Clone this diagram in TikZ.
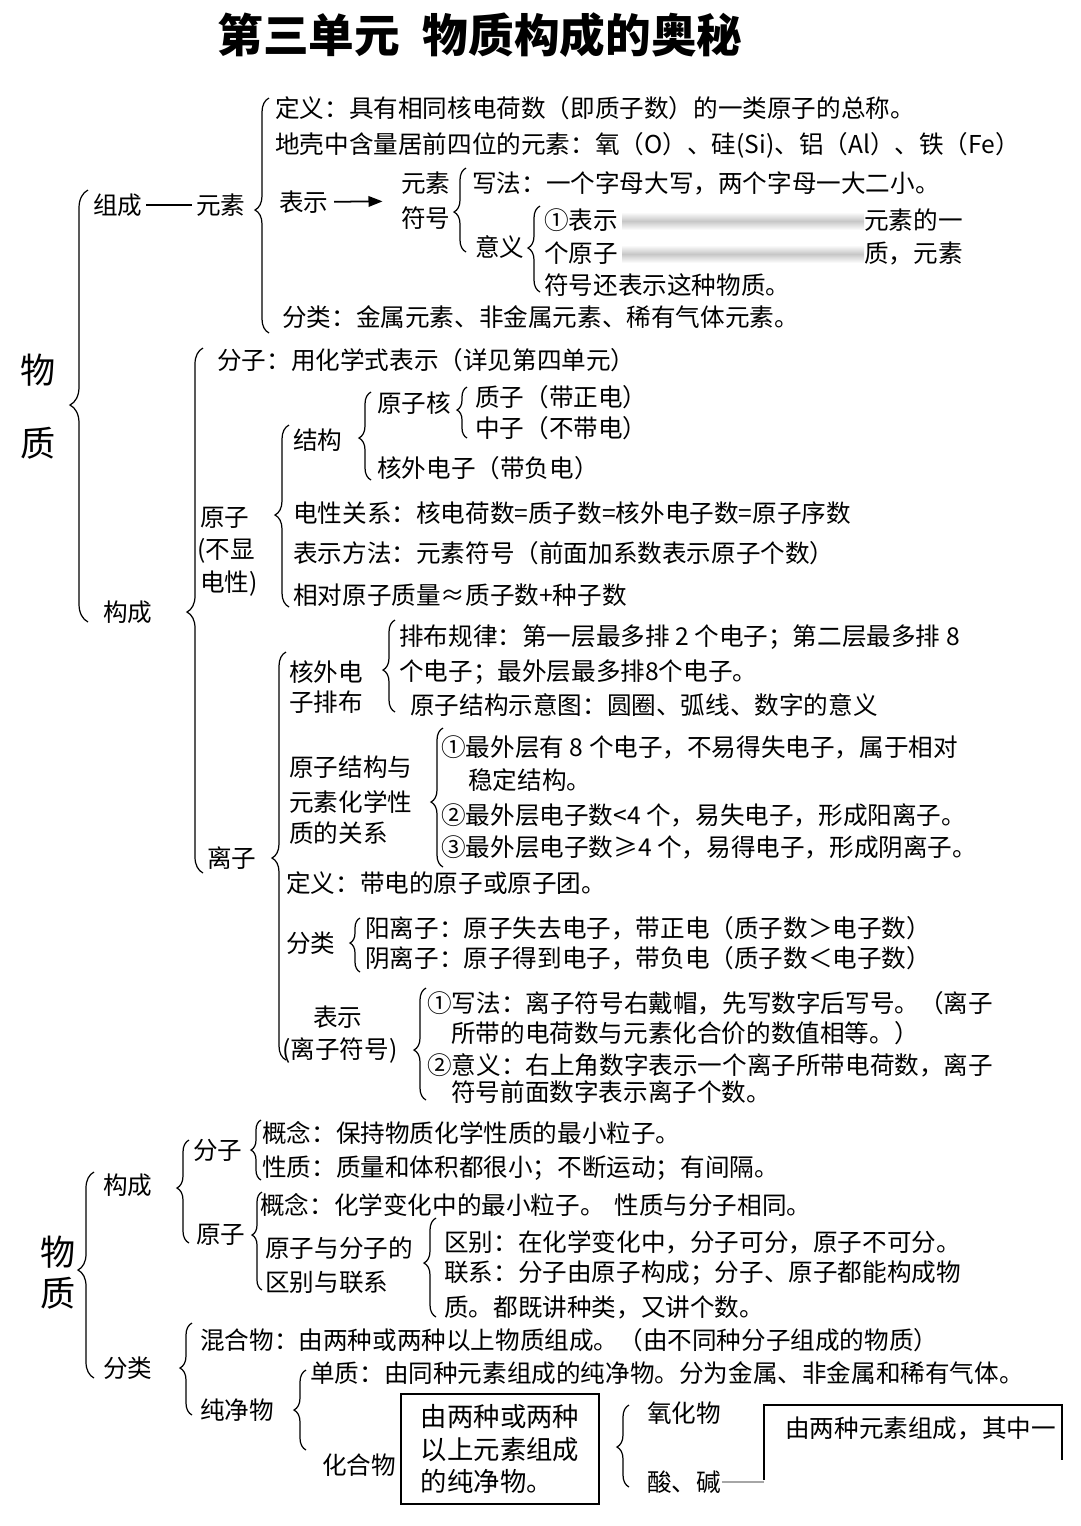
\documentclass[tikz,border=0pt]{standalone}
\usepackage{fontspec}
\setmainfont{Noto Sans CJK SC}
\usetikzlibrary{decorations.pathreplacing,arrows.meta}

\newcommand\bodyfont{\fontsize{14}{17}\selectfont}
\newcommand\bigfont{\fontsize{20}{24}\selectfont}
% brace: line x, top, bottom, tip, amplitude (px)
\newcommand\kuohao[5]{%
  \pgfmathsetmacro\kasp{(#3-#4)/(#3-#2)}%
  \pgfmathsetmacro\kamp{#5*0.569}%
  \draw[kh,decoration={brace,amplitude=\kamp pt,aspect=\kasp}] ({#1+#5/2},#3) -- ({#1+#5/2},#2);}

\begin{document}
\begin{tikzpicture}[x=0.02cm,y=-0.02cm,
  entry/.style={anchor=west,inner sep=0pt,font=\bodyfont},
  big/.style={inner sep=0pt,font=\bigfont},
  kh/.style={decorate,line width=0.7pt}]
\useasboundingbox (0,0) rectangle (1080,1526);

\node[inner sep=0pt,font=\fontsize{26}{30}\selectfont\bfseries] (title) at (480,35) {第三单元\hspace{0.5em}物质构成的奥秘};

% first part: 组成
\node[big] (wu1) at (38,370) {物};
\node[big] (zhi1) at (38,443) {质};
\kuohao{79}{190}{622}{405}{18}
\node[entry] (zucheng) at (93,205) {组成};
\node[entry] (yuansu) at (196,205) {元素};
\draw[line width=1.2pt,shorten <=2pt,shorten >=2pt] (zucheng) -- (yuansu);

\kuohao{262}{98}{333}{210}{14}
\node[entry] (dingyi) at (275,108) {定义：具有相同核电荷数（即质子数）的一类原子的总称。};
\node[entry] (dike) at (275,145) {地壳中含量居前四位的元素：氧（O）、硅(Si)、铝（Al）、铁（Fe）};
\node[entry] (biaoshi) at (279,202) {表示};
\node[entry,align=left,font=\fontsize{14}{20}\selectfont] (fuhao) at (401,201) {元素\\符号};
\draw[-{Triangle[length=8pt,width=6pt]},line width=1pt,shorten <=3pt,shorten >=10.5pt] (biaoshi) -- (fuhao);

\kuohao{460}{168}{252}{212}{12}
\node[entry] (xiefa) at (472,183) {写法：一个字母大写，两个字母一大二小。};
\node[entry] (yiyi) at (475,247) {意义};
\kuohao{534}{206}{292}{248}{12}
\node[entry] (yiyi1a) at (544,220) {①表示};
\node[entry] (yiyi1b) at (864,220) {元素的一};
\node[entry] (yiyi2a) at (544,253) {个原子};
\node[entry] (yiyi2b) at (864,253) {质，元素};
\node[entry] (yiyi3) at (544,285) {符号还表示这种物质。};
\shade[top color=white,bottom color=white,middle color=black!22] (622,212) rectangle (864,230);
\shade[top color=white,bottom color=white,middle color=black!22] (622,245) rectangle (864,263);
\node[entry] (fenlei1) at (282,317) {分类：金属元素、非金属元素、稀有气体元素。};

% first part: 构成
\node[entry] (goucheng1) at (103,612) {构成};
\kuohao{195}{348}{873}{612}{16}
\node[entry] (fenzi1) at (217,360) {分子：用化学式表示（详见第四单元）};

\node[entry] (yuanzi1) at (200,518) {原子};
\node[entry] (buxian) at (197,551) {(不显};
\node[entry] (dianxing) at (200,584) {电性)};
\kuohao{282}{425}{607}{515}{14}
\node[entry] (jiegou) at (293,440) {结构};
\kuohao{365}{392}{480}{438}{12}
\node[entry] (hezi) at (377,403) {原子核};
\kuohao{462}{387}{438}{410}{10}
\node[entry] (zhizi) at (475,397) {质子（带正电）};
\node[entry] (zhongzi) at (475,428) {中子（不带电）};
\node[entry] (dianzi) at (377,468) {核外电子（带负电）};
\node[entry] (guanxi) at (293,513) {电性关系：核电荷数=质子数=核外电子数=原子序数};
\node[entry] (fangfa) at (293,553) {表示方法：元素符号（前面加系数表示原子个数）};
\node[entry] (zhiliang) at (293,595) {相对原子质量≈质子数+种子数};

\node[entry] (lizi) at (207,858) {离子};
\kuohao{279}{652}{1060}{858}{14}
\node[entry] (paibu1) at (289,672) {核外电};
\node[entry] (paibu2) at (289,702) {子排布};
\kuohao{389}{620}{712}{670}{12}
\node[entry] (guilv1) at (399,637) {排布规律：第一层最多排 2 个电子；第二层最多排 8};
\node[entry] (guilv2) at (399,672) {个电子；最外层最多排8个电子。};
\node[entry] (shiyi) at (410,705) {原子结构示意图：圆圈、弧线、数字的意义};
\node[entry] (xingzhi1) at (289,767) {原子结构与};
\node[entry] (xingzhi2) at (289,802) {元素化学性};
\node[entry] (xingzhi3) at (289,833) {质的关系};
\kuohao{437}{728}{867}{802}{12}
\node[entry] (guize1a) at (441,747) {①最外层有 8 个电子，不易得失电子，属于相对};
\node[entry] (guize1b) at (468,780) {稳定结构。};
\node[entry] (guize2) at (441,815) {②最外层电子数<4 个，易失电子，形成阳离子。};
\node[entry] (guize3) at (441,847) {③最外层电子数≥4 个，易得电子，形成阴离子。};
\node[entry] (dingyi2) at (286,883) {定义：带电的原子或原子团。};
\node[entry] (fenlei2) at (286,943) {分类};
\kuohao{355}{918}{972}{943}{10}
\node[entry] (yang) at (365,928) {阳离子：原子失去电子，带正电（质子数＞电子数）};
\node[entry] (yin) at (365,958) {阴离子：原子得到电子，带负电（质子数＜电子数）};
\node[entry] (biaoshi2a) at (313,1017) {表示};
\node[entry] (biaoshi2b) at (282,1050) {(离子符号)};
\kuohao{420}{988}{1100}{1050}{12}
\node[entry] (xiefa2a) at (427,1003) {①写法：离子符号右戴帽，先写数字后写号。（离子};
\node[entry] (xiefa2b) at (451,1033) {所带的电荷数与元素化合价的数值相等。）};
\node[entry] (yiyi4a) at (427,1065) {②意义：右上角数字表示一个离子所带电荷数，离子};
\node[entry] (yiyi4b) at (451,1092) {符号前面数字表示离子个数。};

% second part
\node[big] (wu2) at (58,1252) {物};
\node[big] (zhi2) at (58,1293) {质};
\kuohao{86}{1172}{1378}{1270}{16}
\node[entry] (goucheng2) at (103,1185) {构成};
\kuohao{183}{1140}{1243}{1188}{12}
\node[entry] (fenzi2) at (193,1150) {分子};
\kuohao{256}{1120}{1180}{1150}{10}
\node[entry] (gainian1) at (262,1133) {概念：保持物质化学性质的最小粒子。};
\node[entry] (xingzhi4) at (262,1168) {性质：质量和体积都很小；不断运动；有间隔。};
\node[entry] (yuanzi2) at (196,1235) {原子};
\kuohao{257}{1192}{1290}{1235}{10}
\node[entry] (gainian2) at (260,1205) {概念：化学变化中的最小粒子。\hspace{0.4em}性质与分子相同。};
\node[entry] (qubie1) at (265,1248) {原子与分子的};
\node[entry] (qubie2) at (265,1282) {区别与联系};
\kuohao{430}{1218}{1317}{1263}{12}
\node[entry] (qubie) at (444,1242) {区别：在化学变化中，分子可分，原子不可分。};
\node[entry] (lianxi1) at (444,1273) {联系：分子由原子构成；分子、原子都能构成物};
\node[entry] (lianxi2) at (444,1307) {质。都既讲种类，又讲个数。};

\node[entry] (fenlei3) at (103,1368) {分类};
\kuohao{186}{1323}{1415}{1368}{12}
\node[entry] (hunhe) at (200,1340) {混合物：由两种或两种以上物质组成。（由不同种分子组成的物质）};
\node[entry] (chunjing) at (200,1410) {纯净物};
\kuohao{300}{1370}{1450}{1410}{12}
\node[entry] (danzhi) at (310,1373) {单质：由同种元素组成的纯净物。分为金属、非金属和稀有气体。};
\node[entry] (huahe) at (322,1465) {化合物};
\node[draw,line width=1pt,minimum width=3.96cm,minimum height=2.2cm,inner sep=0pt,
  align=left,font=\fontsize{15}{18.5}\selectfont] (hhbox) at (500,1449) {由两种或两种\\以上元素组成\\的纯净物。};
\kuohao{623}{1405}{1487}{1447}{12}
\node[entry] (yanghua) at (647,1413) {氧化物};
\node[entry] (suanjian) at (647,1482) {酸、碱};
\node[entry] (rbtext) at (785,1428) {由两种元素组成，其中一};
\draw[line width=1pt] (764,1480) |- (1062,1405) -- (1062,1460);
\coordinate (rbox) at (764,1482);
\draw[black!35,line width=1.5pt] (suanjian) -- (rbox);
\end{tikzpicture}
\end{document}
